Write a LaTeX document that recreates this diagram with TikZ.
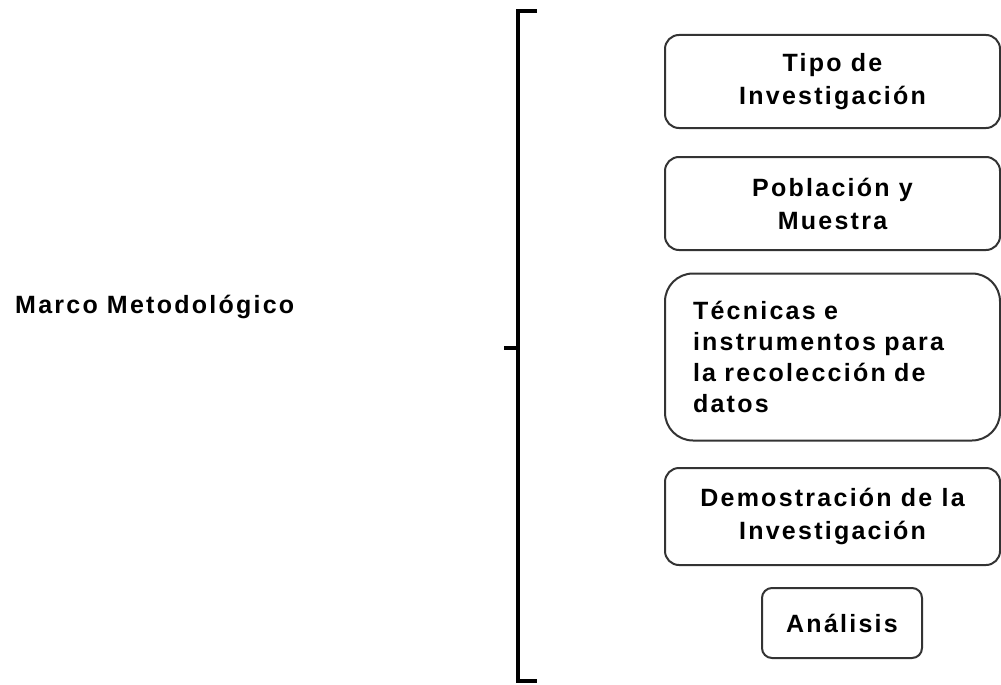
\documentclass[tikz,border=0pt]{standalone}
\usepackage{fontspec}
\setmainfont{Liberation Sans}[LetterSpace=9]

\tikzset{
  caja/.style={draw=black!80, line width=2pt, rounded corners=14pt, align=center, inner sep=0pt},
  llave/.style={line width=4pt}
}

\begin{document}
\begin{tikzpicture}[x=1pt, y=-1pt, every node/.style={font=\fontsize{25}{33}\selectfont\bfseries}]
  \useasboundingbox (0,0) rectangle (1001,685);
  % llave
  \draw[llave] (537,11.5) -- (518,11.5) -- (518,681) -- (537,681);
  \draw[llave] (518,347.5) -- (504,347.5);
  \node[anchor=base west, inner sep=0pt] (marco) at (15,313) {Marco Metodológico};
  % cajas
  \node[caja, minimum width=335pt, minimum height=93pt] (tipo) at (832.5,81.5) {Tipo de\\Investigación};
  \node[caja, minimum width=335pt, minimum height=93pt] (poblacion) at (832.5,203.5) {Población y\\Muestra};
  \node[caja, rounded corners=28pt, align=left, text width=279pt, inner xsep=28pt, minimum height=167pt,
        font=\fontsize{25}{31}\selectfont\bfseries] (tecnicas) at (832.5,357) {Técnicas e\\instrumentos para\\la recolección de\\datos};
  \node[caja, minimum width=335pt, minimum height=97pt] (demostracion) at (832.5,516.5) {Demostración de la\\Investigación};
  \node[caja, rounded corners=10pt, minimum width=160pt, minimum height=70pt] (analisis) at (842,623) {Análisis};
\end{tikzpicture}
\end{document}
